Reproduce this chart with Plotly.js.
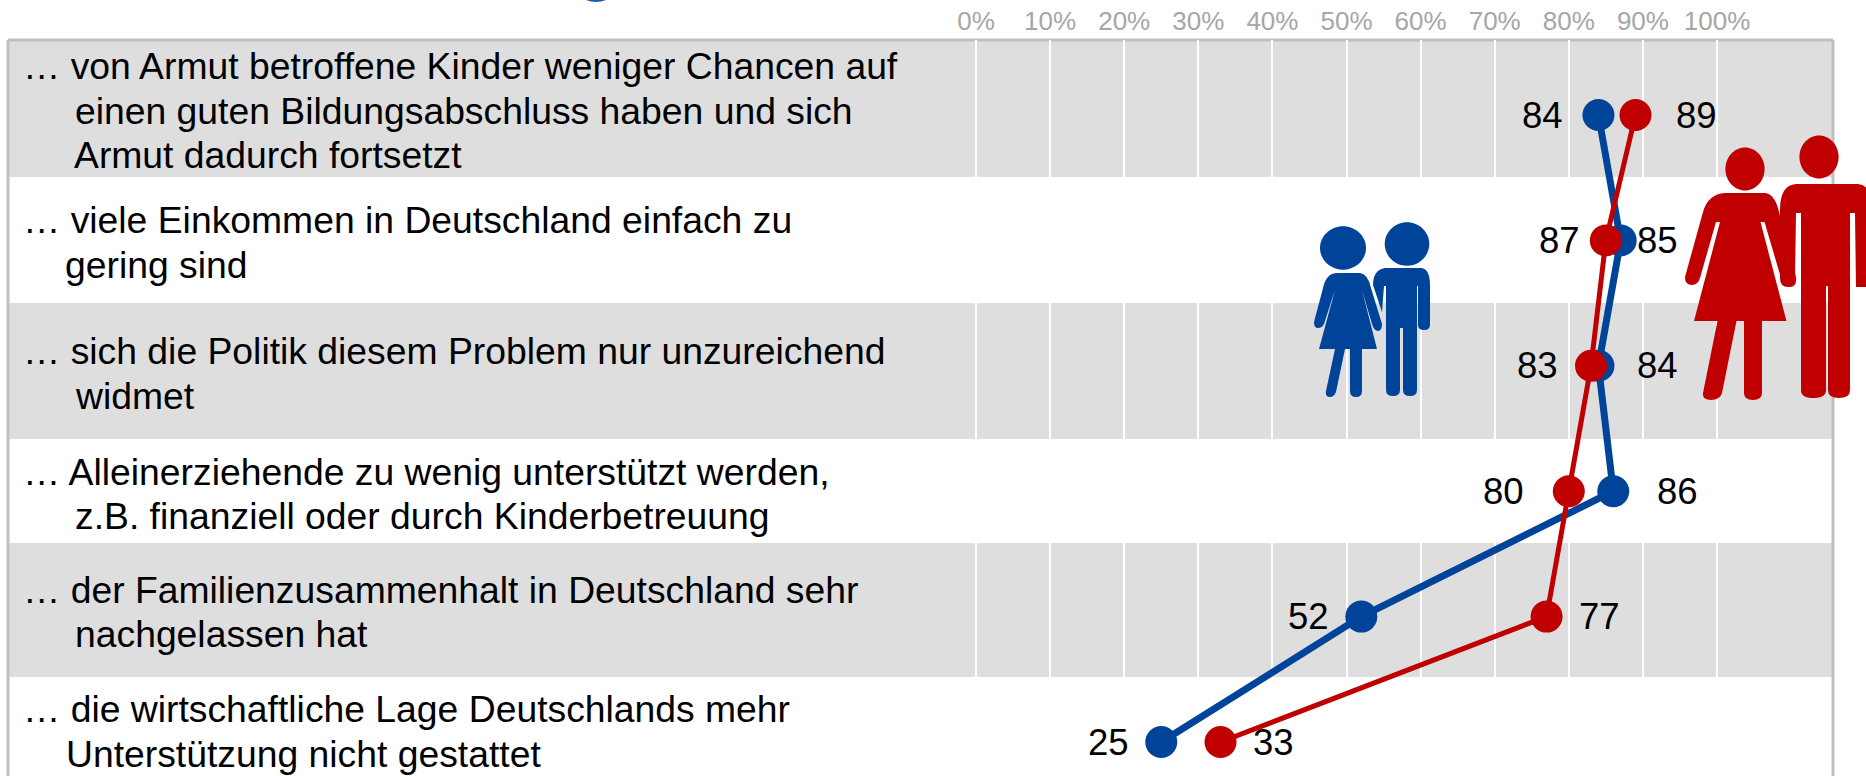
<!DOCTYPE html>
<html><head><meta charset="utf-8">
<script src="https://cdn.plot.ly/plotly-3.0.1.min.js"></script>
<style>html,body{margin:0;padding:0;background:#fff;overflow:hidden}</style>
</head><body><div id="chart" style="width:1866px;height:776px"></div>
<script>
// ---- data ----
const rowLabels = [
  ["… von Armut betroffene Kinder weniger Chancen auf","einen guten Bildungsabschluss haben und sich","Armut dadurch fortsetzt"],
  ["… viele Einkommen in Deutschland einfach zu","gering sind"],
  ["… sich die Politik diesem Problem nur unzureichend","widmet"],
  ["… Alleinerziehende zu wenig unterstützt werden,","z.B. finanziell oder durch Kinderbetreuung"],
  ["… der Familienzusammenhalt in Deutschland sehr","nachgelassen hat"],
  ["… die wirtschaftliche Lage Deutschlands mehr","Unterstützung nicht gestattet"]
];
const rows = [0,1,2,3,4,5];
const blueValues = [84,87,84,86,52,25];
const redValues  = [89,85,83,80,77,33];
const blueLabels = ["84","87","84","86","52","25"];
const redLabels  = ["89","85","83","80","77","33"];
const tickValues = [0,10,20,30,40,50,60,70,80,90,100];

// ---- page geometry (pixels) ----
const W=1866,H=776,L=8,R=1833,T=40;
const x0=976, pxPerPct=7.41, y0=115, rowStep=125.4;
const BLUE="#00449a", RED="#c00000", GREY="#dedede", BORDER="#c0c0c0";
const px=v=>(v-L)/(R-L), py=v=>(H-v)/(H-T);
const greyBands=[[42,177],[303,439],[543,677]];
const blueShift=[-56,-61,59,64,-53,-53], redShift=[61,52,-54,-65,53,53];
const lineX=[[21,72.5,71.5],[21,62.5],[21,72.5],[21,72.5],[21,72.5],[21,63.5]];
const lineBase=[[77,122,166],[231,276],[362,407],[483,527],[601,645],[720,765]];
const FONT='"Liberation Sans", Arial, sans-serif';

// convert a path written in page pixels to paper fractions
const path=d=>d.replace(/(-?[\d.]+),(-?[\d.]+)/g,(m,a,b)=>px(+a).toFixed(5)+","+py(+b).toFixed(5));
const ell=(cx,cy,rx,ry)=>`M${cx-rx},${cy} C${cx-rx},${cy-ry*.55} ${cx-rx*.55},${cy-ry} ${cx},${cy-ry} C${cx+rx*.55},${cy-ry} ${cx+rx},${cy-ry*.55} ${cx+rx},${cy} C${cx+rx},${cy+ry*.55} ${cx+rx*.55},${cy+ry} ${cx},${cy+ry} C${cx-rx*.55},${cy+ry} ${cx-rx},${cy+ry*.55} ${cx-rx},${cy} Z`;
const icons=[
 // cropped title descender at the very top edge
 ["#1c5cb0", `M586,0 Q596,4 606,0 Z`],
 // red woman
 [RED, ell(1745,169,19.6,21.5)],
 [RED, `M1725,193 L1765,193 Q1775,194 1779,212 L1796,277 Q1797,287 1790,287 Q1785,287 1781,278 L1764.5,222 L1760.5,222 L1786.5,321 L1762,321 L1762,393 Q1762,400 1753,400 Q1744,400 1744,393 L1744,321 L1736.5,321 L1722,393 Q1720,400 1711,400 Q1702,400 1703,393 L1717.5,321 L1694,321 L1720,222 L1716,222 L1700,278 Q1698,285 1692,285 Q1685,285 1685,277 L1703,212 Q1708,194 1725,193 Z`],
 // red man
 [RED, ell(1819,157,19.6,21.5)],
 [RED, `M1796,184 L1858,184 Q1872,185 1872,210 L1872,287 L1856,287 L1855,213 L1850,213 L1850,390 Q1850,398 1839,398 Q1828,398 1828,390 L1828,286 L1826,286 L1826,390 Q1826,398 1813,398 Q1801,398 1801,390 L1801,213 L1796,213 L1795,278 Q1795,287 1788,287 Q1780,287 1780,278 L1780,210 Q1780,185 1796,184 Z`],
 // blue woman
 [BLUE, ell(1343,248,23,21.7)],
 [BLUE, `M1336,273 L1360,273 Q1368,274 1371,288 L1382,324 Q1382,331 1378,331 Q1374,331 1372,324 L1362,290 L1377,349 L1362,349 L1362,391 Q1362,397 1356,397 Q1350,397 1350,391 L1350,349 L1345,349 L1336,392 Q1334,397 1330,397 Q1325,397 1326,391 L1335,349 L1319,349 L1335,290 L1324,324 Q1322,328 1318,328 Q1314,328 1314,322 L1323,288 Q1326,274 1336,273 Z`],
 // blue man
 [BLUE, ell(1407,244,22.3,21.8)],
 [BLUE, `M1385,268 L1422,268 Q1430,270 1430,285 L1430,325 Q1430,330 1424,330 Q1418,330 1418,325 L1418,286 L1417,286 L1417,390 Q1417,396 1410,396 Q1403,396 1403,390 L1403,328 L1400,328 L1400,390 Q1400,396 1393,396 Q1386,396 1386,390 L1386,286 L1384,286 L1382,312 L1373,285 Q1373,270 1385,268 Z`]
];

// ---- shapes ----
const shapes=[];
greyBands.forEach(b=>shapes.push({type:"rect",layer:"below",xref:"paper",yref:"paper",x0:0,x1:1,y0:py(b[1]),y1:py(b[0]),fillcolor:GREY,line:{width:0}}));
// top of the first band has no gridlines
shapes.push({type:"rect",layer:"between",xref:"paper",yref:"paper",x0:0,x1:1,y0:py(52),y1:py(41),fillcolor:GREY,line:{width:0}});
[[`M${L},${T} L${R},${T}`],[`M${L},${T} L${L},${H}`],[`M${R},${T} L${R},${H}`]].forEach(p=>
  shapes.push({type:"path",layer:"between",xref:"paper",yref:"paper",path:path(p[0]),line:{color:BORDER,width:3}}));
icons.forEach(i=>shapes.push({type:"path",layer:"above",xref:"paper",yref:"paper",path:path(i[1]),fillcolor:i[0],line:{width:0}}));

// ---- annotations ----
const annotations=[];
rowLabels.forEach((lines,r)=>lines.forEach((t,k)=>annotations.push({
  text:t,xref:"paper",yref:"paper",x:px(lineX[r][k]),y:py(lineBase[r][k]-11),xanchor:"left",yanchor:"middle",showarrow:false,
  font:{family:FONT,size:37.3,color:"#000"}})));
rows.forEach(r=>{
  annotations.push({text:blueLabels[r],x:blueValues[r],y:r,xshift:blueShift[r],showarrow:false,font:{family:FONT,size:36.5,color:"#000"}});
  annotations.push({text:redLabels[r],x:redValues[r],y:r,xshift:redShift[r],showarrow:false,font:{family:FONT,size:36.5,color:"#000"}});
});

const traces=[
 {type:"scatter",mode:"lines+markers",name:"blue",x:blueValues,y:rows,line:{color:BLUE,width:7},marker:{color:BLUE,size:32},hoverinfo:"x+y"},
 {type:"scatter",mode:"lines+markers",name:"red",x:redValues,y:rows,line:{color:RED,width:5},marker:{color:RED,size:32},hoverinfo:"x+y"}
];
const layout={
 width:W,height:H,margin:{l:L,r:W-R,t:T,b:0,pad:0},showlegend:false,
 paper_bgcolor:"#fff",plot_bgcolor:"#fff",
 xaxis:{side:"top",range:[(L-x0)/pxPerPct,(R-x0)/pxPerPct],tickmode:"array",tickvals:tickValues,ticktext:tickValues.map(v=>v+"%"),
   showgrid:true,gridcolor:"#fff",gridwidth:2,zeroline:false,showline:false,ticks:"",ticklen:0,ticklabelstandoff:4,
   tickfont:{family:FONT,size:26,color:"#a6a6a6"},fixedrange:true},
 yaxis:{range:[(H-y0)/rowStep,(T-y0)/rowStep],showgrid:false,zeroline:false,showline:false,showticklabels:false,ticks:"",fixedrange:true},
 shapes,annotations
};
Plotly.newPlot("chart",traces,layout,{displayModeBar:false,responsive:false});
</script></body></html>
